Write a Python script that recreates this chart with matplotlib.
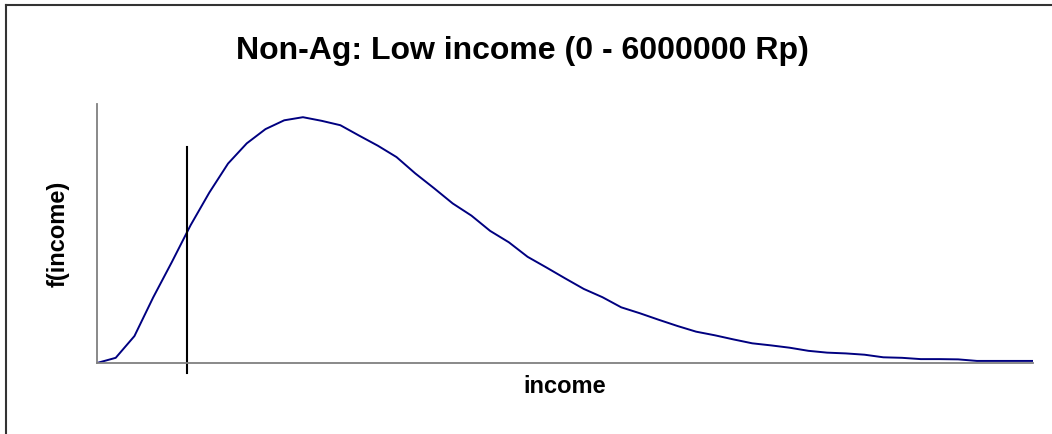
import matplotlib.pyplot as plt
from matplotlib.lines import Line2D
import numpy as np

# income grid in thousand Rp, density in arbitrary units
income = np.arange(0, 6001, 120)
density = [0.000, 0.020, 0.104, 0.253, 0.390, 0.532, 0.658, 0.770, 0.848, 0.903,
           0.937, 0.949, 0.935, 0.918, 0.878, 0.839, 0.795, 0.732, 0.675, 0.616,
           0.569, 0.510, 0.466, 0.410, 0.369, 0.327, 0.286, 0.254, 0.215, 0.192,
           0.167, 0.143, 0.121, 0.107, 0.091, 0.076, 0.068, 0.059, 0.047, 0.040,
           0.037, 0.032, 0.022, 0.020, 0.015, 0.015, 0.014, 0.008, 0.008, 0.008,
           0.008]
poverty_line = 577
line_top = 0.834
line_bottom = -0.039

plt.rcParams['font.family'] = ['Liberation Sans', 'DejaVu Sans']

fig = plt.figure(figsize=(10.52, 4.34), dpi=100)
ax = fig.add_axes([0.0922, 0.1636, 0.8898, 0.5968])

ax.plot(income, density, color='#000080', lw=1.4)
ax.plot([poverty_line, poverty_line], [line_bottom, line_top], color='black', lw=1.5, clip_on=False)

ax.set_xlim(0, 6000)
ax.set_ylim(0, 1)
ax.set_xticks([])
ax.set_yticks([])
for side in ['top', 'right']:
    ax.spines[side].set_visible(False)
for side in ['left', 'bottom']:
    ax.spines[side].set_color('#808080')
    ax.spines[side].set_linewidth(1.3)

ax.set_xlabel('income', fontsize=17, fontweight='bold', labelpad=9)
ax.set_ylabel('f(income)', fontsize=17, fontweight='bold', labelpad=20)
fig.text(0.497, 0.882, 'Non-Ag: Low income (0 - 6000000 Rp)', ha='center', va='center',
         fontsize=23, fontweight='bold')

# outer frame (left and top edges visible)
fig.add_artist(Line2D([0.0057, 0.0057], [0, 0.988], color='#333333', lw=1.5, transform=fig.transFigure))
fig.add_artist(Line2D([0.0057, 1], [0.988, 0.988], color='#333333', lw=1.5, transform=fig.transFigure))

fig.savefig('out.png', dpi=100)
